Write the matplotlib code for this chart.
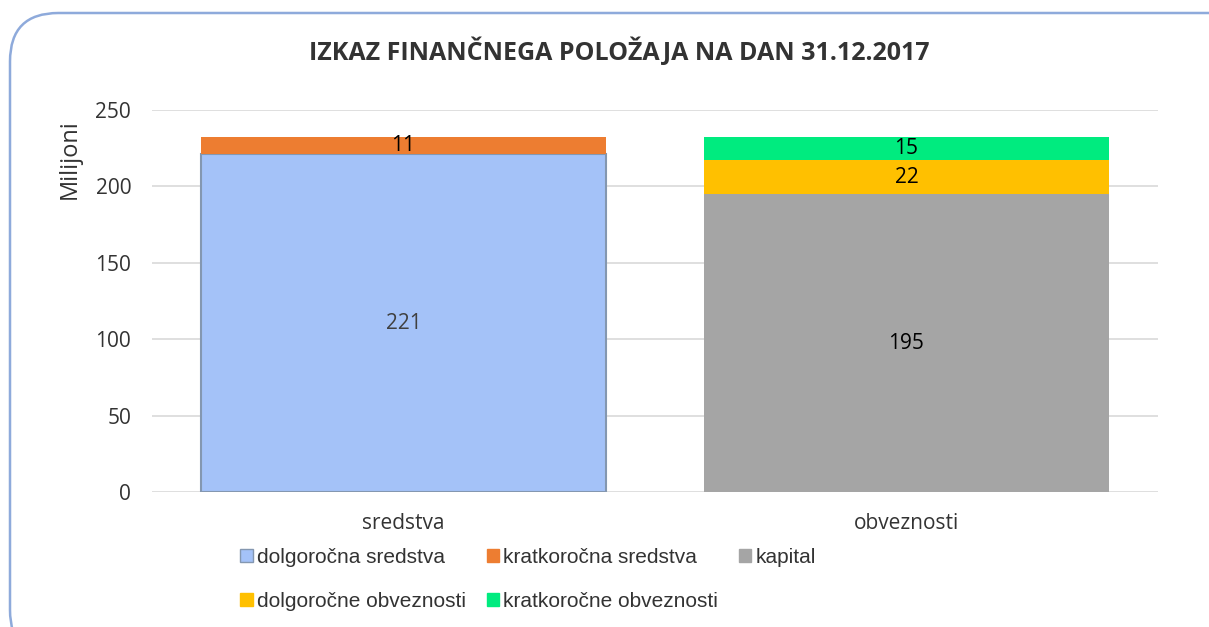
import matplotlib.pyplot as plt
from matplotlib.patches import FancyBboxPatch, Patch

CATEGORIES = ["sredstva", "obveznosti"]
SERIES = ["dolgoročna sredstva", "kratkoročna sredstva", "kapital",
          "dolgoročne obveznosti", "kratkoročne obveznosti"]
# value of each series per category (0 = not present in that bar)
VALUES = {
    "dolgoročna sredstva": [221, 0],
    "kratkoročna sredstva": [11, 0],
    "kapital": [0, 195],
    "dolgoročne obveznosti": [0, 22],
    "kratkoročne obveznosti": [0, 15],
}
COLORS = {
    "dolgoročna sredstva": "#a4c2f8",
    "kratkoročna sredstva": "#ed7d31",
    "kapital": "#a5a5a5",
    "dolgoročne obveznosti": "#ffc000",
    "kratkoročne obveznosti": "#00eb7f",
}
LABEL_COLORS = {"dolgoročna sredstva": "#404040"}
YTICKS = [0, 50, 100, 150, 200, 250]
TITLE = "IZKAZ FINANČNEGA POLOŽAJA NA DAN 31.12.2017"

TEXT = "#333333"
GRID = "#d9d9d9"
BORDER = "#8eaadb"
FONT = "Open Sans"

fig = plt.figure(figsize=(12.09, 6.27), dpi=100, facecolor="white")
ax = fig.add_axes([0.1257, 0.2153, 0.8321, 0.6093])

x = range(len(CATEGORIES))
bottoms = [0, 0]
for name in SERIES:
    vals = VALUES[name]
    edge = "#8497b0" if name == "dolgoročna sredstva" else "none"
    bars = ax.bar(x, vals, width=0.807, bottom=bottoms, color=COLORS[name],
                  edgecolor=edge, linewidth=1.5 if edge != "none" else 0, zorder=3)
    for rect, v, b in zip(bars, vals, bottoms):
        if v:
            ax.text(rect.get_x() + rect.get_width() / 2, b + v / 2, f"{v}",
                    ha="center", va="center", fontsize=15, family=FONT,
                    color=LABEL_COLORS.get(name, "black"), zorder=4)
    bottoms = [b + v for b, v in zip(bottoms, vals)]

ax.set_xlim(-0.5, 1.5)
ax.set_ylim(0, 250)
ax.set_yticks(YTICKS)
ax.set_xticks(list(x))
ax.set_xticklabels(CATEGORIES, fontsize=15, family=FONT, color=TEXT)
for t in ax.get_yticklabels():
    t.set_fontsize(15)
    t.set_family(FONT)
    t.set_color(TEXT)
ax.tick_params(axis="y", length=0, pad=15)
ax.tick_params(axis="x", length=0, pad=15)
ax.grid(axis="y", color=GRID, linewidth=1.2, zorder=0)
for s in ax.spines.values():
    s.set_visible(False)

fig.text(0.058, 1 - 159 / 627, "Milijoni", rotation=90, ha="center", va="center",
         fontsize=17, family=FONT, color=TEXT)
fig.text(0.5118, 1 - 52 / 627, TITLE, ha="center", va="center",
         fontsize=18, family=FONT, weight="bold", color=TEXT)

# matplotlib fills legend columns first; reorder so rows read like the reference
order = [0, 3, 1, 4, 2]
handles = [Patch(facecolor=COLORS[n],
                 edgecolor="#8497b0" if n == "dolgoročna sredstva" else COLORS[n])
           for n in SERIES]
fig.legend([handles[i] for i in order], [SERIES[i] for i in order], ncol=3,
           loc="upper left", bbox_to_anchor=(240 / 1209, 1 - 548 / 627),
           frameon=False, prop={"family": "Liberation Sans", "size": 15},
           labelcolor=TEXT, handlelength=0.6, handleheight=0.6,
           handletextpad=0.2, columnspacing=1.0, labelspacing=1.2,
           borderpad=0, borderaxespad=0)

border = FancyBboxPatch((10 / 1209, -0.05), 1.1, 1 - 13 / 627 + 0.05,
                        boxstyle="round,pad=0,rounding_size=0.04",
                        transform=fig.transFigure, facecolor="none",
                        edgecolor=BORDER, linewidth=1.8, mutation_aspect=1209 / 627)
fig.patches.append(border)

fig.savefig("out.png", dpi=100, facecolor="white")
